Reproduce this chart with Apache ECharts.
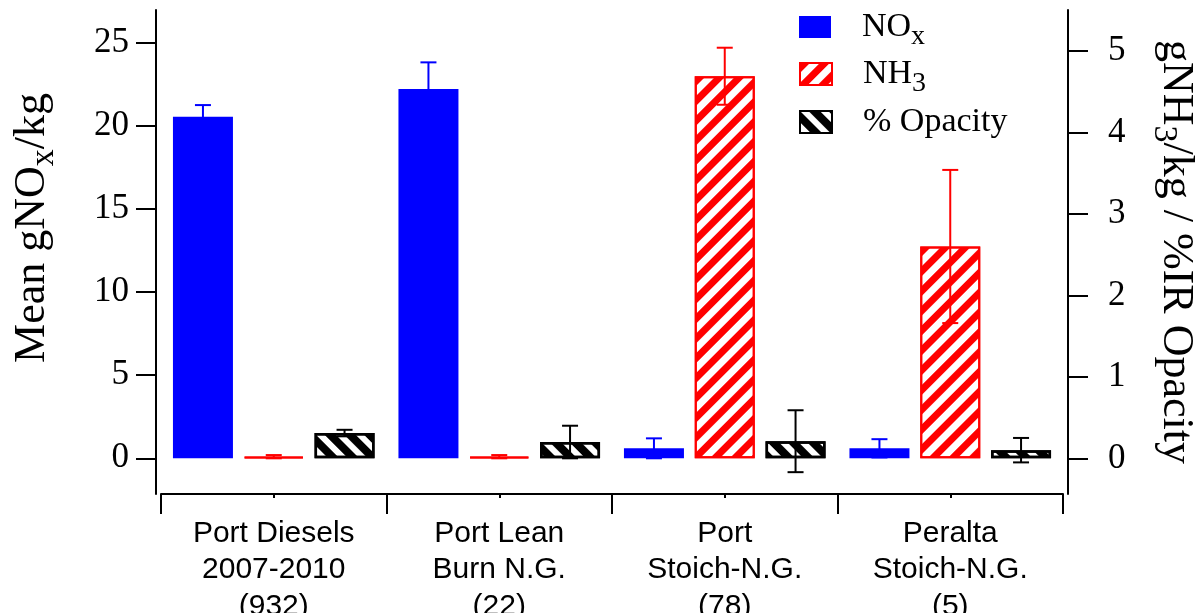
<!DOCTYPE html>
<html>
<head>
<meta charset="utf-8">
<script src="https://cdn.jsdelivr.net/npm/echarts@6/dist/echarts.min.js"></script>
<style>
  html, body { margin: 0; padding: 0; background: #fff; }
  #chart { width: 1203px; height: 613px; }
</style>
</head>
<body>
<div id="chart"></div>
<script>
// 数据（从图上读出来的）
var categories = [
  "Port Diesels\n2007-2010\n(932)",
  "Port Lean\nBurn N.G.\n(22)",
  "Port\nStoich-N.G.\n(78)",
  "Peralta\nStoich-N.G.\n(5)"
];
var noxMean = [20.55, 22.22, 0.6, 0.6];
var noxErr = [0.7, 1.6, 0.6, 0.55];
var nh3Mean = [0.02, 0.02, 4.69, 2.6];
var nh3Err = [0.02, 0.02, 0.35, 0.94];
var opacityMean = [0.31, 0.2, 0.21, 0.1];
var opacityErr = [0.04, 0.2, 0.38, 0.15];
var leftTicks = [0, 5, 10, 15, 20, 25];
var rightTicks = [0, 1, 2, 3, 4, 5];

(function() {
  var myChart = echarts.init(document.getElementById("chart"));
  var SERIF = "'Liberation Serif', 'Times New Roman', serif";
  var SANS = "'Liberation Sans', Arial, sans-serif";
  var BAR_W = 60;
  var GAP = 0.18;
  var STEP = BAR_W * (1 + GAP);
  // 下标：用上边距把字往下压
  var legendSub = { fontSize: 28, fontFamily: SERIF, color: "#000", lineHeight: 20, padding: [20, 0, 0, 0] };
  var nameSub = { fontSize: 34, fontFamily: SERIF, color: "#000", lineHeight: 24, padding: [24, 0, 0, 0] };

  // 误差线 custom series
  function errorSeries(name, means, errs, slot, color, yIndex) {
    return {
      name: name,
      type: "custom",
      yAxisIndex: yIndex,
      z: 5,
      data: means.map(function(v, i) { return [i, v, errs[i]]; }),
      renderItem: function(params, api) {
        var i = api.value(0), v = api.value(1), e = api.value(2);
        var hi = api.coord([i, v + e]);
        var lo = api.coord([i, v - e]);
        var x = hi[0] + slot * STEP;
        var c = 8;
        var st = { stroke: color, lineWidth: 2 };
        return {
          type: "group",
          children: [
            { type: "line", shape: { x1: x, y1: hi[1], x2: x, y2: lo[1] }, style: st },
            { type: "line", shape: { x1: x - c, y1: hi[1], x2: x + c, y2: hi[1] }, style: st },
            { type: "line", shape: { x1: x - c, y1: lo[1], x2: x + c, y2: lo[1] }, style: st }
          ]
        };
      }
    };
  }

  // 图例：每项单独放，方便对齐
  function legendItem(name, top) {
    return {
      data: [name],
      left: 799,
      top: top,
      padding: 0,
      icon: "rect",
      itemWidth: 32,
      itemHeight: 22,
      selectedMode: false,
      formatter: function(n) {
        if (n === "NOx") return "NO{sub|x}";
        if (n === "NH3") return "NH{sub|3}";
        return n;
      },
      textStyle: {
        fontSize: 34, fontFamily: SERIF, color: "#000", lineHeight: 40,
        padding: [0, 0, 0, 26],
        rich: { sub: legendSub }
      }
    };
  }

  var axisLine = { show: true, onZero: false, lineStyle: { color: "#000", width: 2 } };

  var option = {
    animation: false,
    backgroundColor: "#fff",
    grid: { left: 161, right: 140, top: 10, bottom: 119, containLabel: false, outerBoundsMode: "none" },
    legend: [
      legendItem("NOx", 3),
      legendItem("NH3", 50),
      legendItem("% Opacity", 102)
    ],
    xAxis: [
      {
        type: "category",
        data: categories,
        axisLine: axisLine,
        axisTick: { show: true, length: 20, lineStyle: { color: "#000", width: 2 } },
        axisLabel: { interval: 0, color: "#000", fontSize: 30, lineHeight: 36.5, fontFamily: SANS, margin: 21 }
      },
      {
        // 中间的小刻度
        type: "category",
        data: categories,
        position: "bottom",
        axisLine: { show: false, onZero: false },
        axisTick: { show: true, alignWithLabel: true, length: 4, lineStyle: { color: "#000", width: 2 } },
        axisLabel: { show: false }
      }
    ],
    yAxis: [
      {
        type: "value",
        min: -2.148,
        max: 26.97,
        offset: 5,
        name: "Mean gNO{sub|x}/kg",
        nameLocation: "middle",
        nameGap: 100,
        nameMoveOverlap: false,
        nameTextStyle: {
          fontSize: 44, fontFamily: SERIF, color: "#000", lineHeight: 48,
          padding: [0, 0, 0, 48],
          rich: { sub: nameSub }
        },
        axisLine: axisLine,
        axisTick: { show: true, length: 20, customValues: leftTicks, lineStyle: { color: "#000", width: 2 } },
        axisLabel: { customValues: leftTicks, color: "#000", fontSize: 35, fontFamily: SERIF, margin: 27 },
        splitLine: { show: false }
      },
      {
        type: "value",
        min: -0.438,
        max: 5.503,
        offset: 5,
        position: "right",
        name: "gNH{sub|3}/kg / %IR Opacity",
        nameLocation: "middle",
        nameRotate: -90,
        nameGap: 84,
        nameMoveOverlap: false,
        nameTextStyle: { fontSize: 44, fontFamily: SERIF, color: "#000", lineHeight: 48, rich: { sub: nameSub } },
        axisLine: axisLine,
        axisTick: { show: true, length: 20, customValues: rightTicks, lineStyle: { color: "#000", width: 2 } },
        axisLabel: { customValues: rightTicks, color: "#000", fontSize: 35, fontFamily: SERIF, margin: 40 },
        splitLine: { show: false }
      }
    ],
    series: [
      {
        name: "NOx",
        type: "bar",
        yAxisIndex: 0,
        barWidth: BAR_W,
        barGap: "18%",
        itemStyle: { color: "#0000ff" },
        data: noxMean
      },
      {
        name: "NH3",
        type: "bar",
        yAxisIndex: 1,
        barWidth: BAR_W,
        barGap: "18%",
        itemStyle: {
          color: "#fff",
          borderColor: "#ff0000",
          borderWidth: 2,
          decal: { symbol: "rect", symbolSize: 1, color: "#ff0000", dashArrayX: [1, 0], dashArrayY: [6.7, 6.7], rotation: -Math.PI / 4 }
        },
        data: nh3Mean
      },
      {
        name: "% Opacity",
        type: "bar",
        yAxisIndex: 1,
        barWidth: BAR_W,
        barGap: "18%",
        itemStyle: {
          color: "#fff",
          borderColor: "#000",
          borderWidth: 2.5,
          decal: { symbol: "rect", symbolSize: 1, color: "#000", dashArrayX: [1, 0], dashArrayY: [7.5, 6], rotation: Math.PI / 4 }
        },
        data: opacityMean
      },
      errorSeries("NOx err", noxMean, noxErr, -1, "#0000ff", 0),
      errorSeries("NH3 err", nh3Mean, nh3Err, 0, "#ff0000", 1),
      errorSeries("Opacity err", opacityMean, opacityErr, 1, "#000", 1)
    ]
  };
  myChart.setOption(option);
  window.addEventListener("resize", function() {
    myChart.resize();
  });
})();
</script>
</body>
</html>
